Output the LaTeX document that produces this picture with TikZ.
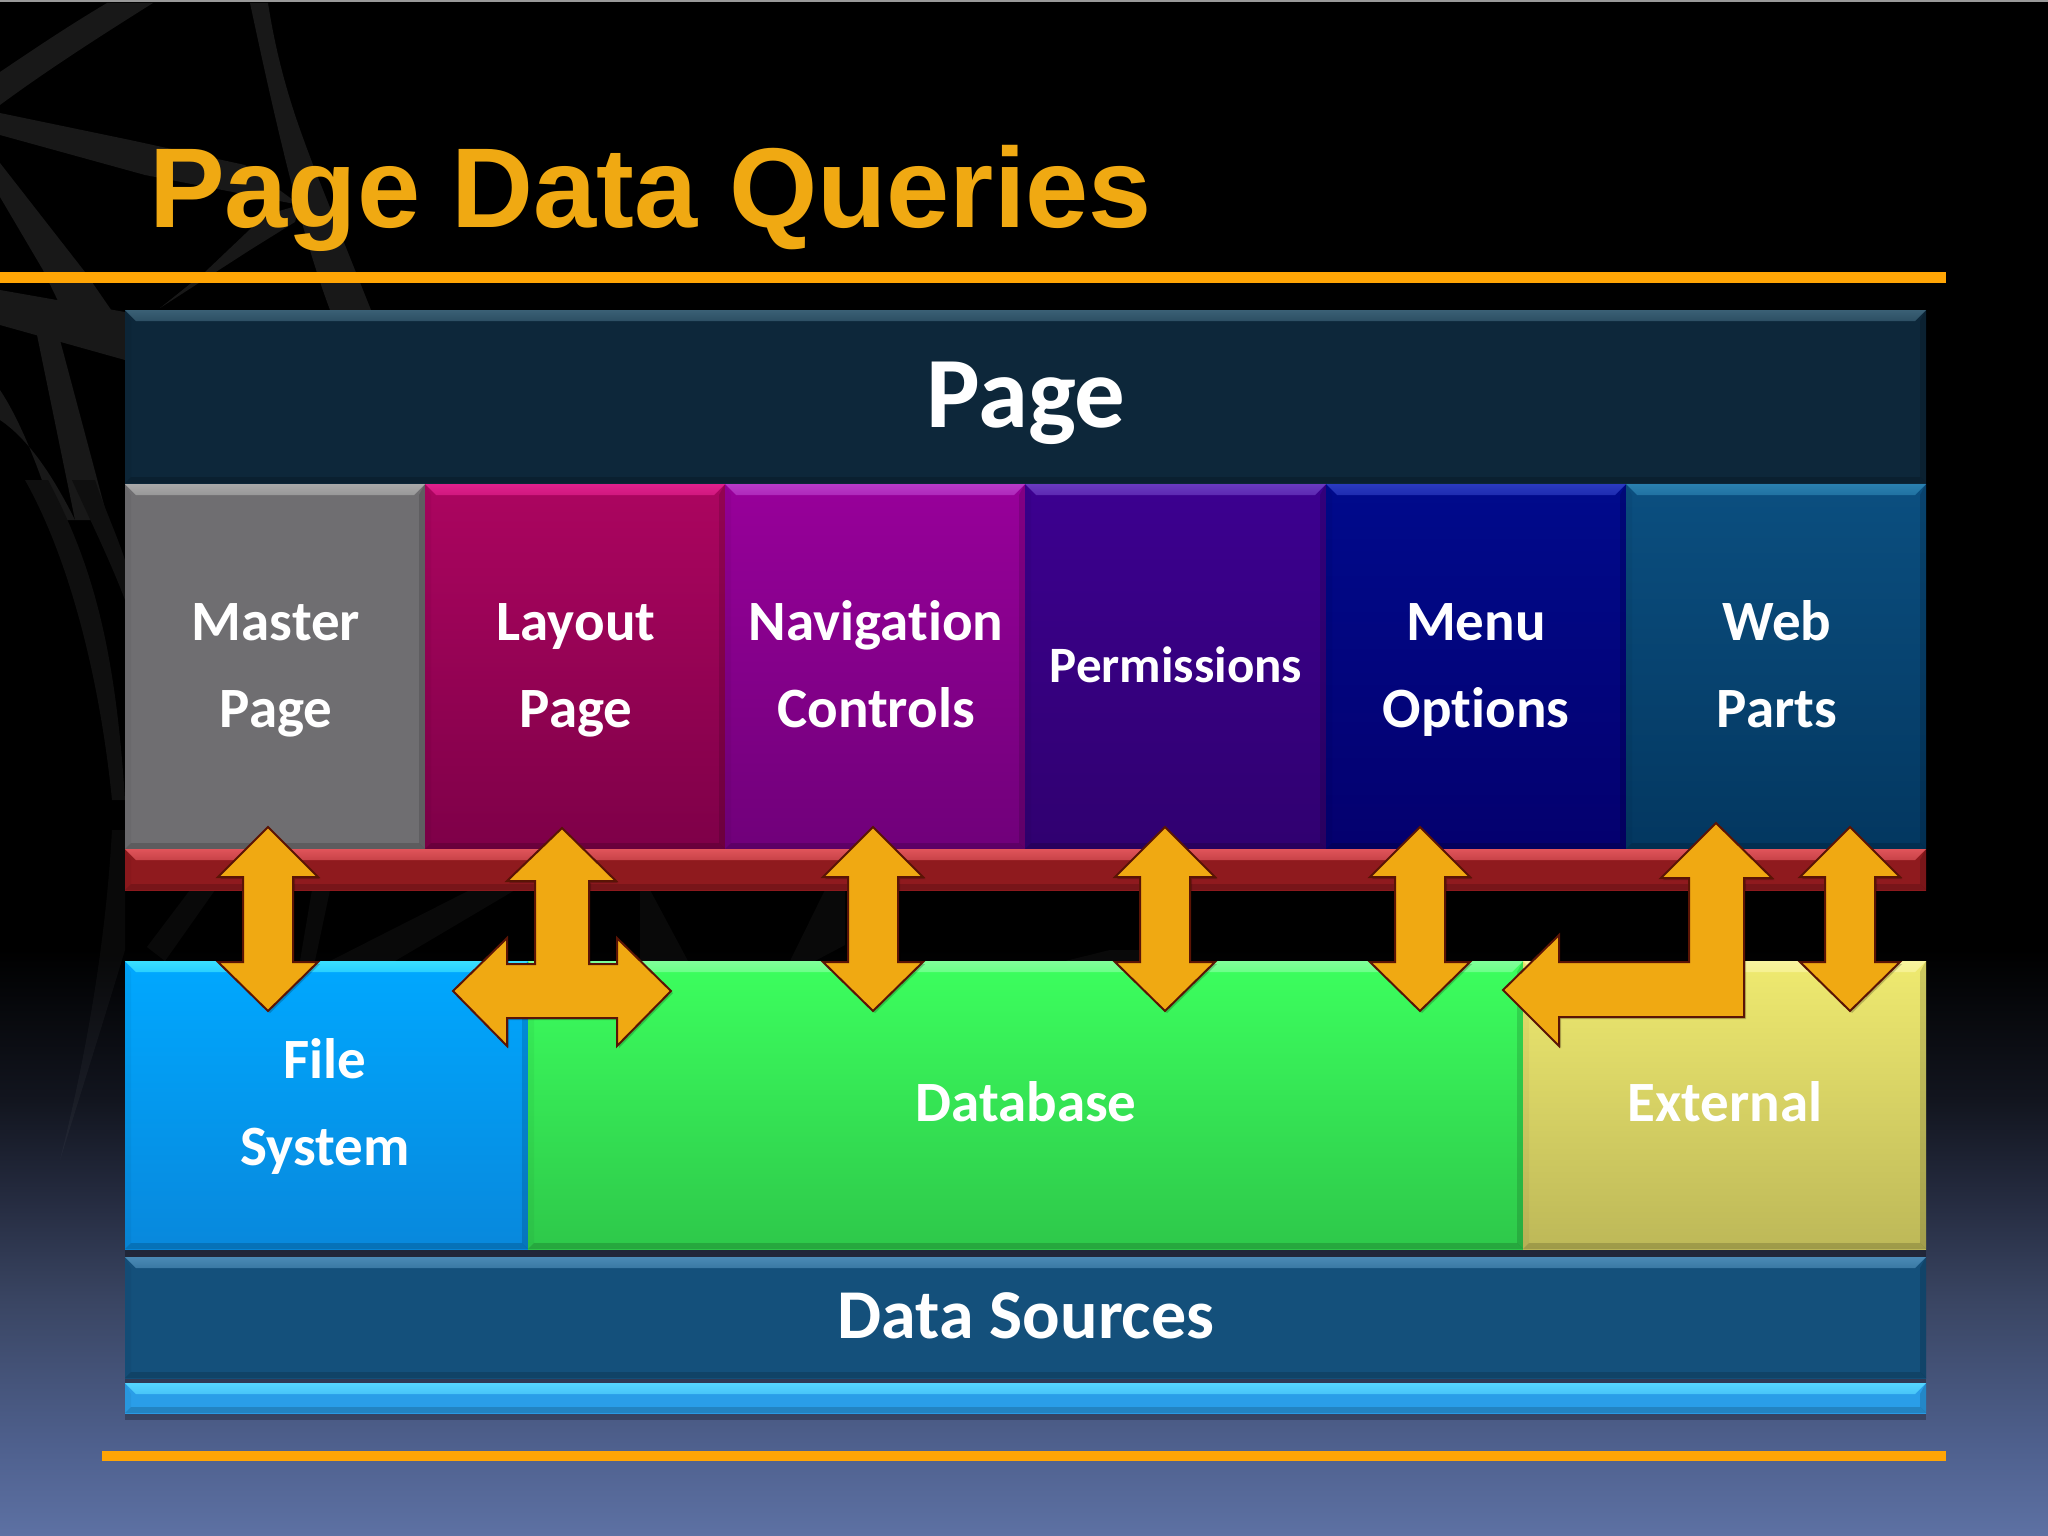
\documentclass[tikz,border=0pt]{standalone}
\usepackage{fontspec}
\setmainfont{Carlito}[Ligatures=NoCommon]
\newfontfamily\titlefont{Liberation Sans}
\pgfdeclareverticalshading{bgshade}{100bp}{
  rgb(0bp)=(0.365,0.443,0.640);
  rgb(25bp)=(0.365,0.443,0.640);
  rgb(27.8bp)=(0.310,0.380,0.560);
  rgb(32.7bp)=(0.225,0.270,0.385);
  rgb(35.95bp)=(0.145,0.170,0.250);
  rgb(39.2bp)=(0.070,0.082,0.120);
  rgb(44.1bp)=(0,0,0);
  rgb(100bp)=(0,0,0)}
\definecolor{orangeline}{HTML}{FFA505}
\definecolor{arrowfill}{HTML}{F0A912}
\definecolor{arrowedge}{HTML}{5A1405}
\definecolor{wire}{HTML}{181818}
\definecolor{wiremid}{HTML}{0F0F0F}
\definecolor{pageC}{HTML}{0D273A}\definecolor{pageH}{HTML}{3A6075}
\definecolor{masterC}{HTML}{6F6E71}\definecolor{masterH}{HTML}{A9A9A9}
\definecolor{layoutT}{HTML}{AC0560}\definecolor{layoutB}{HTML}{7E0048}\definecolor{layoutH}{HTML}{E0208C}
\definecolor{navT}{HTML}{98009A}\definecolor{navB}{HTML}{70007A}\definecolor{navH}{HTML}{B83AC8}
\definecolor{permT}{HTML}{3C0090}\definecolor{permB}{HTML}{300070}\definecolor{permH}{HTML}{6A3AC0}
\definecolor{menuT}{HTML}{000A8C}\definecolor{menuB}{HTML}{04006E}\definecolor{menuH}{HTML}{2A3AC0}
\definecolor{webT}{HTML}{0B4F80}\definecolor{webB}{HTML}{033760}\definecolor{webH}{HTML}{2A80B0}
\definecolor{redC}{HTML}{8F1A1E}\definecolor{redH}{HTML}{E0545A}
\definecolor{fileT}{HTML}{00A8FF}\definecolor{fileB}{HTML}{0888DC}\definecolor{fileH}{HTML}{3AE0FF}
\definecolor{dbT}{HTML}{3CFF5E}\definecolor{dbB}{HTML}{2EC84A}\definecolor{dbH}{HTML}{80FF9A}
\definecolor{extT}{HTML}{EFEA70}\definecolor{extB}{HTML}{BDB858}\definecolor{extH}{HTML}{F8F4A0}
\definecolor{dsC}{HTML}{14507B}\definecolor{dsH}{HTML}{4A8AB5}
\definecolor{cyanC}{HTML}{2A9EE8}\definecolor{cyanH}{HTML}{55D5FF}
\tikzset{
  bx/.style={inner sep=0pt,outer sep=0pt,draw=none,rectangle},
  lab/.style={text=white,font=\bfseries\fontsize{57}{60}\selectfont,anchor=base,inner sep=0pt,outer sep=0pt},
  arrowshape/.style={fill=arrowfill,draw=arrowedge,line width=2pt,line join=miter,miter limit=6},
  arrowshadow/.style={fill=black,opacity=.2},
  wirestroke/.style={fill=wire},
  midstroke/.style={fill=wiremid},
  faintstroke/.style={fill=white,opacity=.035},
  rulebar/.style={fill=orangeline}
}
% name x1 y1 x2 y2 topcolour bottomcolour highlight
\newcommand{\bevelbox}[8]{%
  \pgfmathsetlengthmacro{\bw}{(#4-#2)*1pt}%
  \pgfmathsetlengthmacro{\bh}{(#5-#3)*1pt}%
  \node[bx,top color=#6,bottom color=#7,minimum width=\bw,minimum height=\bh] (#1) at ({(#2+#4)/2},{(#3+#5)/2}) {};
  \fill[black,opacity=.16] (#2,#5) -- (#4,#5) -- (#4-6,#5-6) -- (#2+6,#5-6) -- cycle;
  \fill[black,opacity=.14] (#4,#3) -- (#4,#5) -- (#4-6,#5-6) -- (#4-6,#3+11) -- cycle;
  \fill[black,opacity=.04] (#2,#3) -- (#2,#5) -- (#2+6,#5-6) -- (#2+6,#3+11) -- cycle;
  \shade[top color=#8,bottom color=#8!70!#6] (#2,#3) -- (#4,#3) -- (#4-11,#3+11) -- (#2+11,#3+11) -- cycle;
}
\newcommand{\updownpath}[1]{(#1,827) -- (#1+50,877) -- (#1+25,877) -- (#1+25,962) -- (#1+50,962) -- (#1,1011) -- (#1-50,962) -- (#1-25,962) -- (#1-25,877) -- (#1-50,877) -- cycle}
\newcommand{\updown}[1]{%
  \fill[arrowshadow,xshift=2pt,yshift=-2pt] \updownpath{#1};
  \draw[arrowshape] \updownpath{#1};
}
\newcommand{\tpath}{(562,828) -- (616,881) -- (589,881) -- (589,964) -- (617,964) -- (617,938) -- (671,991) -- (617,1046) -- (617,1018) -- (507,1018) -- (507,1046) -- (453,991) -- (507,938) -- (507,964) -- (535,964) -- (535,881) -- (507,881) -- cycle}
\newcommand{\lpath}{(1716,823) -- (1772,878) -- (1744,878) -- (1744,1017) -- (1559,1017) -- (1559,1046) -- (1503,990) -- (1559,935) -- (1559,962) -- (1689,962) -- (1689,878) -- (1661,878) -- cycle}
\begin{document}
\begin{tikzpicture}[x=1pt,y=-1pt]
\useasboundingbox (0,0) rectangle (2048,1536);
\shade[shading=bgshade] (0,0) rectangle (2048,1536);
\fill[gray!80] (0,0) rectangle (2048,2.5);
% background wire strokes
\fill[wirestroke] (0,72) .. controls (40,45) and (70,25) .. (107,3) -- (153,3) .. controls (110,30) and (50,68) .. (0,105) -- cycle;
\fill[wirestroke] (0,113) -- (130,140) -- (245,165) -- (300,205) -- (145,175) -- (0,135) -- cycle;
\fill[wirestroke] (250,3) -- (268,3) .. controls (280,80) and (300,130) .. (315,170) -- (371,310) -- (330,310) .. controls (300,230) and (275,120) .. (250,3) -- cycle;
\fill[wirestroke] (0,163) -- (85,272) -- (125,330) -- (60,305) -- (43,270) -- (0,197) -- cycle;
\fill[wirestroke] (160,308) -- (250,250) -- (295,222) -- (300,205) -- (265,215) -- (205,272) -- cycle;
\fill[wirestroke] (0,290) -- (125,312) -- (125,360) -- (0,325) -- cycle;
\fill[wirestroke] (37,335) -- (60,340) -- (108,520) -- (75,520) -- cycle;
\fill[wirestroke] (0,390) .. controls (20,420) and (40,470) .. (55,520) -- (75,520) .. controls (55,480) and (30,440) .. (0,420) -- cycle;
\fill[midstroke] (25,480) -- (48,480) .. controls (90,560) and (115,640) .. (125,800) -- (112,800) .. controls (100,680) and (70,560) .. (25,480) -- cycle;
\fill[midstroke] (72,480) -- (95,480) .. controls (105,510) and (115,530) .. (125,560) -- (125,600) .. controls (110,560) and (90,520) .. (72,480) -- cycle;
\fill[faintstroke] (112,830) -- (125,830) -- (125,950) .. controls (110,1000) and (85,1080) .. (60,1160) .. controls (80,1080) and (105,960) .. (112,830) -- cycle;
\fill[faintstroke] (147,947) -- (190,890) -- (215,890) -- (165,961) -- cycle;
\fill[faintstroke] (300,961) -- (312,890) -- (330,890) -- (315,961) -- cycle;
\fill[faintstroke] (330,961) -- (470,890) -- (515,890) -- (395,961) -- cycle;
\fill[faintstroke] (640,890) -- (650,890) -- (688,961) -- (640,961) -- cycle;
\fill[faintstroke] (790,961) -- (825,890) -- (845,890) -- (845,945) -- (815,961) -- cycle;
\fill[faintstroke] (1065,961) -- (1110,950) -- (1140,950) -- (1140,961) -- cycle;
% rules
\fill[rulebar] (0,272) rectangle (1946,283);
\fill[rulebar] (102,1451) rectangle (1946,1461);
% title
\node[anchor=base west,inner sep=0pt,outer sep=0pt,text=arrowfill,font=\titlefont\bfseries\fontsize{113.5}{120}\selectfont] (title) at (149,227) {Page Data Queries};
% box shadows
\fill[black,opacity=.3] (125,1249) rectangle (1926,1257);
\fill[black,opacity=.3] (125,1378) rectangle (1926,1383);
\fill[black,opacity=.25] (125,1413) rectangle (1926,1420);
% boxes
\bevelbox{page}{125}{310}{1926}{483}{pageC}{pageC}{pageH}
\bevelbox{master}{125}{484}{425}{849}{masterC}{masterC}{masterH}
\bevelbox{layout}{425}{484}{725}{849}{layoutT}{layoutB}{layoutH}
\bevelbox{nav}{725}{484}{1025}{849}{navT}{navB}{navH}
\bevelbox{perm}{1025}{484}{1326}{849}{permT}{permB}{permH}
\bevelbox{menu}{1326}{484}{1626}{849}{menuT}{menuB}{menuH}
\bevelbox{web}{1626}{484}{1926}{849}{webT}{webB}{webH}
\bevelbox{bar}{125}{849}{1926}{890}{redC}{redC}{redH}
\bevelbox{file}{125}{961}{528}{1249}{fileT}{fileB}{fileH}
\bevelbox{db}{528}{961}{1523}{1249}{dbT}{dbB}{dbH}
\bevelbox{ext}{1523}{961}{1926}{1249}{extT}{extB}{extH}
\bevelbox{ds}{125}{1257}{1926}{1378}{dsC}{dsC}{dsH}
\bevelbox{cyanbar}{125}{1383}{1926}{1413}{cyanC}{cyanC}{cyanH}
% labels
\node[lab,font=\bfseries\fontsize{101}{104}\selectfont] (tPage) at (1026,427) {Page};
\node[lab] (tMaster) at (276,640) {Master};
\node[lab] (tMasterB) at (276,727) {Page};
\node[lab] (tLayout) at (576,640) {Layout};
\node[lab] (tLayoutB) at (576,727) {Page};
\node[lab] (tNav) at (876,640) {Navigation};
\node[lab] (tNavB) at (876,727) {Controls};
\node[lab,font=\bfseries\fontsize{51}{54}\selectfont] (tPerm) at (1176,682) {Permissions};
\node[lab] (tMenu) at (1476,640) {Menu};
\node[lab] (tMenuB) at (1476,727) {Options};
\node[lab] (tWeb) at (1777,640) {Web};
\node[lab] (tWebB) at (1777,727) {Parts};
\node[lab] (tFile) at (325,1078) {File};
\node[lab] (tFileB) at (325,1165) {System};
\node[lab] (tDb) at (1026,1121) {Database};
\node[lab] (tExt) at (1725,1121) {External};
\node[lab,font=\bfseries\fontsize{70}{72}\selectfont] (tDs) at (1026,1338) {Data Sources};
% arrows
\updown{268}
\updown{873}
\updown{1165}
\updown{1420}
\updown{1850}
\fill[arrowshadow,xshift=2pt,yshift=-2pt] \tpath;
\draw[arrowshape] \tpath;
\fill[arrowshadow,xshift=2pt,yshift=-2pt] \lpath;
\draw[arrowshape] \lpath;
\end{tikzpicture}
\end{document}
